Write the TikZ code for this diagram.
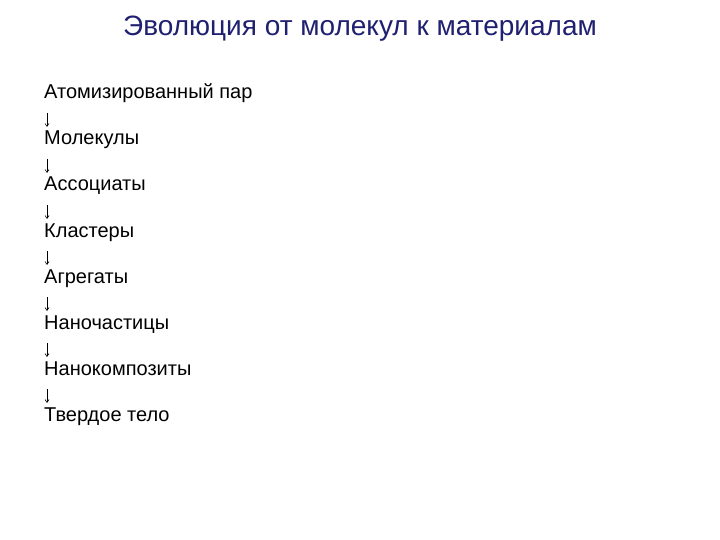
\documentclass[tikz,border=0pt]{standalone}
\usepackage{fontspec}
\setmainfont{Liberation Sans}
\usetikzlibrary{calc,arrows.meta}

\begin{document}
\begin{tikzpicture}[x=1pt, y=-1pt,
		item/.style={anchor=base west, inner sep=0pt, font=\fontsize{20}{20}\selectfont},
		conn/.style={line width=0.6pt, -{Straight Barb[length=3pt,width=4pt]}}]
		\useasboundingbox (0,0) rectangle (720,540);
		\definecolor{titleblue}{RGB}{32,32,112}
		\node[anchor=base, inner sep=0pt, text=titleblue, font=\fontsize{28}{28}\selectfont] (title) at (360,36) {Эволюция от молекул к материалам};

		\node[item] (atom) at (44,99) {Атомизированный пар};
		\node[item] (molec) at (44,145) {Молекулы};
		\node[item] (assoc) at (44,191) {Ассоциаты};
		\node[item] (clust) at (44,237) {Кластеры};
		\node[item] (aggr) at (44,283) {Агрегаты};
		\node[item] (nanop) at (44,329) {Наночастицы};
		\node[item] (nanoc) at (44,375) {Нанокомпозиты};
		\node[item] (solid) at (44,421) {Твердое тело};

		\draw[conn] ($(atom.base west)+(3,14)$) -- ($(molec.base west)+(3,-18)$);
		\draw[conn] ($(molec.base west)+(3,14)$) -- ($(assoc.base west)+(3,-18)$);
		\draw[conn] ($(assoc.base west)+(3,14)$) -- ($(clust.base west)+(3,-18)$);
		\draw[conn] ($(clust.base west)+(3,14)$) -- ($(aggr.base west)+(3,-18)$);
		\draw[conn] ($(aggr.base west)+(3,14)$) -- ($(nanop.base west)+(3,-18)$);
		\draw[conn] ($(nanop.base west)+(3,14)$) -- ($(nanoc.base west)+(3,-18)$);
		\draw[conn] ($(nanoc.base west)+(3,14)$) -- ($(solid.base west)+(3,-18)$);
	\end{tikzpicture}
\end{document}
